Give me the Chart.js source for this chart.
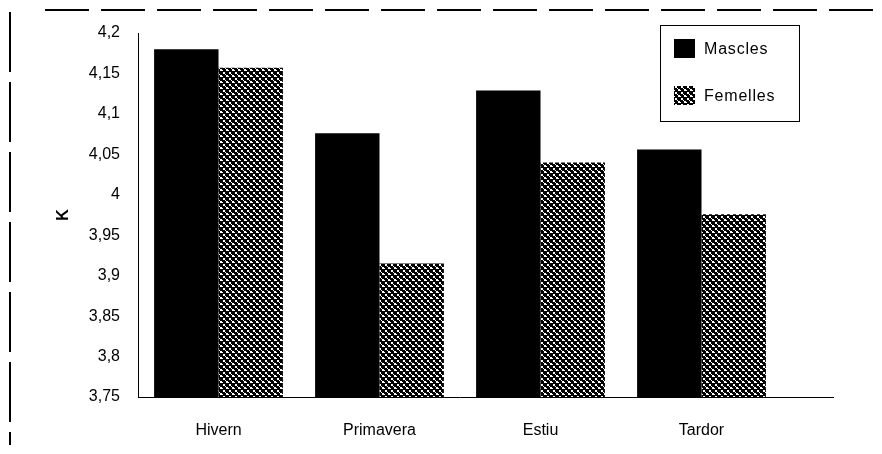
<!DOCTYPE html>
<html>
<head>
<meta charset="utf-8">
<script src="https://cdn.jsdelivr.net/npm/chart.js@4/dist/chart.umd.min.js"></script>
<style>
  html, body { margin:0; padding:0; background:#fff; }
  #wrap { position:relative; width:882px; height:454px; font-family:"Liberation Sans", Arial, sans-serif; }
  #topline { position:absolute; left:45px; top:9px; width:837px; height:2px;
    background:repeating-linear-gradient(90deg,#000 0 44px,transparent 44px 56px); }
  #leftline { position:absolute; left:9px; top:12px; width:2px; height:433px;
    background:repeating-linear-gradient(180deg,#000 0 60px,transparent 60px 70px); }
  #legend { position:absolute; left:660px; top:25px; width:140px; height:97px; border:1px solid #000; box-sizing:border-box; background:#fff; }
  .item { position:absolute; left:13px; display:flex; align-items:center; font-size:16px; letter-spacing:0.8px; color:#000; }
  .item canvas { width:21px; height:19px; margin-right:9px; }
</style>
</head>
<body>
<div id="wrap">
  <canvas id="c" width="882" height="454"></canvas>
  <div id="topline"></div>
  <div id="leftline"></div>
  <div id="legend"></div>
</div>
<script>
const seasons = ['Hivern', 'Primavera', 'Estiu', 'Tardor']
const mascles = [4.18, 4.076, 4.129, 4.056]
const femelles = [4.157, 3.915, 4.04, 3.976]
const seriesNames = ['Mascles', 'Femelles']
const yMin = 3.75, yMax = 4.2, yStep = 0.05

// fine mesh fill, like the scanned screen tone
function meshPattern() {
  const p = document.createElement('canvas')
  p.width = 6; p.height = 6
  const g = p.getContext('2d')
  g.fillStyle = '#000'
  g.fillRect(0, 0, 6, 6)
  g.fillStyle = '#fff'
  g.fillRect(1, 0, 2, 2)
  g.fillRect(4, 3, 2, 2)
  g.fillRect(0, 4, 1, 1)
  g.fillRect(3, 2, 1, 1)
  return g.createPattern(p, 'repeat')
}

const ctx = document.getElementById('c').getContext('2d')
ctx.letterSpacing = '1px'
const mesh = meshPattern()
const fills = ['#000', mesh]
const font = { family: '"Liberation Sans", Arial', size: 16 }

const axisTail = {
  id: 'axisTail',
  afterDraw(chart) {
    const a = chart.chartArea, c = chart.ctx
    c.save()
    c.strokeStyle = '#000'; c.lineWidth = 1
    c.beginPath()
    c.moveTo(a.right, a.bottom + 0.5)
    c.lineTo(a.right + 52, a.bottom + 0.5)
    c.stroke()
    c.restore()
  }
}

new Chart(ctx, {
  type: 'bar',
  data: {
    labels: seasons,
    datasets: [
      { label: seriesNames[0], data: mascles, backgroundColor: fills[0], borderWidth: 0 },
      { label: seriesNames[1], data: femelles, backgroundColor: fills[1], borderWidth: 0 }
    ]
  },
  options: {
    responsive: false, animation: false,
    layout: { padding: { left: 54, right: 100, top: 33, bottom: 0 } },
    plugins: { legend: { display: false }, tooltip: { enabled: false } },
    datasets: { bar: { categoryPercentage: 0.8, barPercentage: 1.0 } },
    scales: {
      x: {
        grid: { display: false },
        border: { color: '#000', width: 1 },
        ticks: { color: '#000', padding: 16, font },
        afterFit: (s) => { s.height = 57 }
      },
      y: {
        min: yMin, max: yMax,
        grid: { display: false },
        border: { color: '#000', width: 1 },
        ticks: {
          stepSize: yStep, color: '#000', padding: 10, font,
          callback: (v) => String(Number(v.toFixed(2))).replace('.', ',')
        },
        title: { display: true, text: 'K', color: '#000', padding: { top: 0, bottom: 0 },
          font: { family: '"Liberation Sans", Arial', size: 16, weight: 'bold' } },
        afterFit: (s) => { s.width = 84 }
      }
    }
  },
  plugins: [axisTail]
})

// legend box built from the series
const legend = document.getElementById('legend')
seriesNames.forEach((name, i) => {
  const item = document.createElement('div')
  item.className = 'item'
  item.style.top = (i === 0 ? 13 : 60) + 'px'
  const sw = document.createElement('canvas')
  sw.width = 21; sw.height = 19
  const sg = sw.getContext('2d')
  sg.fillStyle = fills[i]
  sg.fillRect(0, 0, 21, 19)
  item.appendChild(sw)
  item.appendChild(document.createTextNode(name))
  legend.appendChild(item)
})
</script>
</body>
</html>
